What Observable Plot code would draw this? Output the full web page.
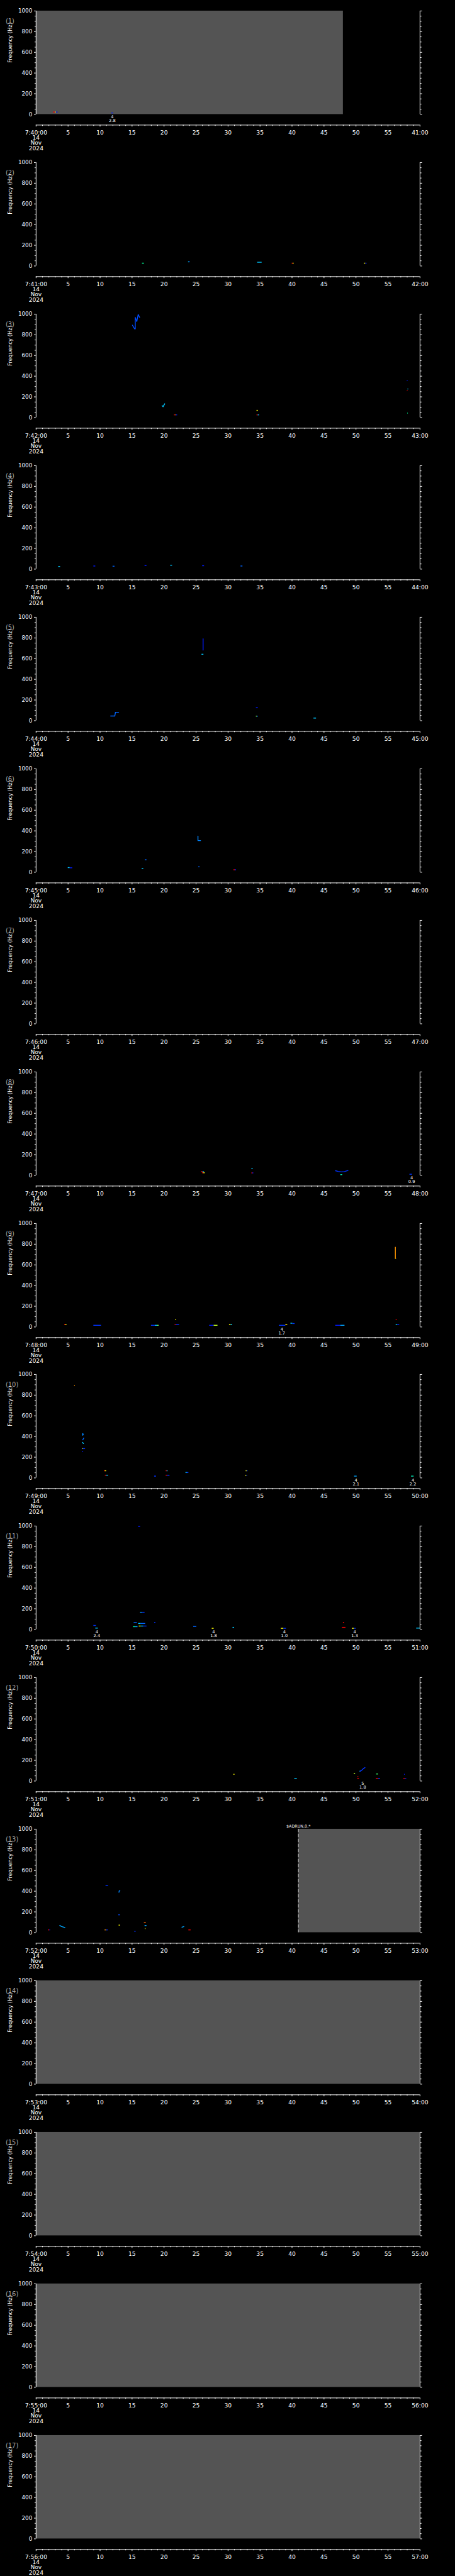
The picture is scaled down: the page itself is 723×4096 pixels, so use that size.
<!DOCTYPE html>
<html>
<head>
<meta charset="utf-8">
<script src="https://cdn.jsdelivr.net/npm/d3@7"></script>
<script src="https://cdn.jsdelivr.net/npm/@observablehq/plot@0.6"></script>
<style>
  html, body { margin: 0; padding: 0; background: #000; }
  #chart { width: 723px; background: #000; }
  #chart svg { display: block; }
</style>
</head>
<body>
<div id="chart"></div>
<script>
// ---------- data ----------
const panelLabels = ["(1)","(2)","(3)","(4)","(5)","(6)","(7)","(8)","(9)","(10)","(11)","(12)","(13)","(14)","(15)","(16)","(17)"];
const panelStart = ["7:40:00","7:41:00","7:42:00","7:43:00","7:44:00","7:45:00","7:46:00","7:47:00","7:48:00","7:49:00","7:50:00","7:51:00","7:52:00","7:53:00","7:54:00","7:55:00","7:56:00"];
const panelEnd = ["41:00","42:00","43:00","44:00","45:00","46:00","47:00","48:00","49:00","50:00","51:00","52:00","53:00","54:00","55:00","56:00","57:00"];
const dateLines = ["14","Nov","2024"];
const yLabel = "Frequency (Hz)";
const freqTicks = [0,200,400,600,800,1000];
const freqMinor = [50,100,150,250,300,350,450,500,550,650,700,750,850,900,950];
const timeTicks = [0,5,10,15,20,25,30,35,40,45,50,55,60];
const timeMinor = [1,2,3,4,6,7,8,9,11,12,13,14,16,17,18,19,21,22,23,24,26,27,28,29,31,32,33,34,36,37,38,39,41,42,43,44,46,47,48,49,51,52,53,54,56,57,58,59];

// grey "no data" blocks: panel, t1, t2 (s), f1, f2 (Hz)
const grayBlocks = [
  {p:1,t1:0,t2:48,f1:0,f2:1000},
  {p:13,t1:41,t2:60,f1:0,f2:1000},
  {p:14,t1:0,t2:60,f1:0,f2:1000},
  {p:15,t1:0,t2:60,f1:0,f2:1000},
  {p:16,t1:0,t2:60,f1:0,f2:1000},
  {p:17,t1:0,t2:60,f1:0,f2:1000}
];
const edgeLines = [{p:13,t:41}];
const gpsMarks = [{p:13,t:41,label:"$ADRUN,0,*"}];

// spectral dashes: [panel, t1, t2, freq, intensity]
const dashRows = [
  [1,2.7,3.0,23,1],[1,3.0,3.15,23,0.7],[1,3.15,3.4,23,0.05],[1,11.8,12.1,14,0.05],
  [2,16.6,16.9,27,0.5],[2,23.8,24.0,40,0.35],[2,24.0,24.1,40,0.05],[2,34.6,35.3,36,0.35],
  [2,40.0,40.15,27,1],[2,40.15,40.3,27,0.7],[2,51.3,51.5,27,0.7],[2,51.5,51.7,27,0.05],
  [3,21.6,21.8,26,1],[3,21.8,21.9,26,0.7],[3,21.9,22.1,26,0.05],[3,34.5,34.7,69,0.7],
  [3,34.5,34.7,26,1],[3,34.7,34.9,26,0.35],[3,58.0,58.1,358,0.05],[3,58.0,58.1,262,1],
  [3,58.1,58.2,276,0.35],[3,58.05,58.15,43,0.5],
  [4,3.5,3.8,25,0.35],[4,9.0,9.3,30,0.05],[4,12.0,12.3,28,0.2],[4,17.0,17.3,35,0.05],
  [4,21.0,21.3,38,0.35],[4,26.0,26.3,33,0.05],[4,32.0,32.3,30,0.2],
  [5,25.9,26.2,642,0.35],[5,34.4,34.7,125,0.05],[5,34.4,34.55,44,0.6],[5,34.55,34.7,44,0.2],
  [5,43.4,43.8,25,0.35],
  [6,5.0,5.3,45,0.35],[6,5.3,5.7,43,0.05],[6,16.55,16.8,38,0.35],[6,17.05,17.3,121,0.2],
  [6,25.4,25.6,53,0.2],[6,30.9,31.1,24,1],[6,31.1,31.3,24,0.05],
  [8,25.8,26.05,35,1],[8,26.05,26.3,35,0.35],[8,26.0,26.2,25,1],[8,26.2,26.4,25,0.7],
  [8,33.7,33.9,67,0.35],[8,33.7,33.85,24,1],[8,33.85,34.0,24,0.05],[8,47.6,47.9,7,0.45],
  [8,58.4,58.8,11,0.1],
  [9,56.15,56.3,664,0.7],[9,4.45,4.6,25,1],[9,4.6,4.8,25,0.7],[9,9.0,10.2,16,0.1],
  [9,18.0,18.6,16,0.1],[9,18.6,19.0,16,0.35],[9,19.0,19.2,16,0.6],[9,21.8,21.95,72,0.7],
  [9,21.7,21.9,25,1],[9,21.9,22.4,25,0.1],[9,27.1,27.8,16,0.05],[9,27.8,28.4,16,0.65],
  [9,30.2,30.45,25,0.7],[9,30.45,30.7,25,0.35],[9,38.0,39.0,16,0.1],[9,39.0,39.3,25,0.75],
  [9,39.8,40.1,36,0.35],[9,40.1,40.45,33,0.1],[9,46.8,47.6,16,0.05],[9,47.6,48.25,16,0.3],
  [9,56.25,56.4,72,1],[9,56.25,56.5,25,0.4],[9,56.5,56.8,25,0.05],
  [10,6.0,6.1,893,0.85],[10,7.25,7.5,420,0.25],[10,7.2,7.35,283,0.7],[10,7.35,7.7,283,0.1],
  [10,7.25,7.4,256,0.05],[10,10.65,10.8,69,1],[10,10.8,11.0,69,0.7],[10,10.8,11.0,26,1],
  [10,11.0,11.3,26,0.35],[10,18.5,18.8,17,0.1],[10,20.3,20.45,69,1],[10,20.45,20.6,69,0.35],
  [10,20.3,20.5,26,1],[10,20.5,20.9,26,0.1],[10,23.4,23.6,52,0.35],[10,23.6,23.85,52,0.1],
  [10,32.8,32.95,69,0.7],[10,32.95,33.1,69,0.1],[10,32.75,32.9,24,0.7],[10,32.9,33.05,26,0.1],
  [10,49.75,50.15,17,0.3],[10,58.65,59.05,17,0.45],
  [11,16.0,16.3,996,0.05],[11,16.3,16.6,166,0.3],[11,16.6,17.0,166,0.1],[11,9.0,9.4,39,0.1],
  [11,9.3,9.7,13,0.35],[11,15.3,15.8,67,0.2],[11,16.0,16.4,58,0.35],[11,16.4,17.1,58,0.2],
  [11,15.2,15.5,27,0.5],[11,15.5,15.9,27,0.3],[11,16.1,16.4,33,0.7],[11,16.4,16.8,33,0.35],
  [11,16.8,17.3,33,0.1],[11,18.5,18.7,67,0.1],[11,24.6,25.1,29,0.2],[11,27.5,27.8,11,0.7],
  [11,30.75,31.0,20,0.35],[11,38.3,38.7,11,0.7],[11,38.7,39.1,11,0.1],[11,48.0,48.2,67,1],
  [11,47.85,48.4,20,1],[11,49.4,49.7,11,0.7],[11,49.7,50.0,11,0.1],[11,59.45,60,13,0.35],
  [12,30.9,31.05,65,0.7],[12,40.4,40.8,23,0.35],[12,50.6,50.8,95,0.35],[12,49.7,49.9,72,0.65],
  [12,50.3,50.4,44,1],[12,50.25,50.5,23,1],[12,53.2,53.5,68,0.55],[12,53.15,53.5,23,1],
  [12,53.5,53.8,23,0.1],[12,57.55,57.65,65,0.05],[12,57.45,57.7,23,1],[12,57.7,57.9,23,0.05],
  [13,1.9,2.1,26,1],[13,2.1,2.25,26,0.05],[13,10.9,11.3,456,0.1],[13,12.9,13.15,172,0.15],
  [13,12.95,13.15,72,0.7],[13,10.75,11.0,26,0.85],[13,11.0,11.25,26,0.1],[13,15.4,15.6,12,0.1],
  [13,16.9,17.2,95,0.9],[13,17.0,17.3,68,0.3],[13,17.05,17.15,39,0.7],[13,23.85,24.2,26,1]
];

// spectral traces: [panel, id, intensity, [[t, f], ...]]
const traceRows = [
  [3,"3a",0.15,[[15.06,893],[15.4,857],[15.5,857],[15.5,968],[15.74,928],[15.96,997],[16.19,968]]],
  [3,"3b",0.35,[[19.7,115],[19.85,105],[20.1,133]]],
  [5,"5a",0.05,[[26.1,792],[26.1,682]]],
  [5,"5b",0.2,[[11.65,45],[12.3,45],[12.4,81],[12.9,81]]],
  [6,"6a",0.25,[[25.3,349],[25.3,306],[25.7,306]]],
  [8,"8a",0.1,[[46.8,45],[47.2,38],[47.7,34],[48.2,37],[48.75,47]]],
  [9,"9a",0.85,[[56.15,771],[56.15,664]]],
  [10,"10a",0.25,[[7.3,429],[7.3,411]]],
  [10,"10b",0.2,[[7.3,368],[7.45,385]]],
  [10,"10c",0.35,[[7.25,343],[7.4,333]]],
  [12,"12a",0.1,[[50.65,95],[50.9,105],[51.15,120],[51.4,130]]],
  [13,"13a",0.3,[[3.7,68],[4.0,58],[4.5,49]]],
  [13,"13b",0.25,[[12.95,390],[13.0,404],[13.1,404]]],
  [13,"13c",0.3,[[22.8,52],[23.1,58]]]
];

// event annotations below the frame
const annotations = [
  {p:1,t:11.9,a:"4",b:"2.8"},
  {p:8,t:58.7,a:"4",b:"0.9"},
  {p:9,t:38.4,a:"4",b:"1.7"},
  {p:10,t:50.0,a:"4",b:"2.1"},
  {p:10,t:58.9,a:"4",b:"2.2"},
  {p:11,t:9.5,a:"4",b:"2.4"},
  {p:11,t:27.75,a:"4",b:"1.8"},
  {p:11,t:38.8,a:"4",b:"1.0"},
  {p:11,t:49.8,a:"4",b:"1.3"},
  {p:12,t:51.05,a:"5",b:"1.8"}
];

const levelDomain = [0,0.2,0.35,0.5,0.7,0.85,1];
const levelColors = ["#0000ff","#0064ff","#00c8ff","#00ff96","#ffff00","#ff9600","#ff0000"];

// ---------- build ----------
const dashes = dashRows.map(([p,t1,t2,f,v]) => ({p,t1,t2,f,v}));
const traces = traceRows.flatMap(([p,id,v,pts]) => pts.map(([t,f]) => ({p,id,v,t,f})));

const S = 723 / 1024;
const W = 723;
const H = 4096 / 17;
const refPanelH = 5802 / 17;
const font = "'DejaVu Sans', sans-serif";

const chart = document.getElementById("chart");

panelLabels.forEach((lab, i) => {
  const p = i + 1;
  const svg = Plot.plot({
    width: W,
    height: H,
    marginTop: 24 * S,
    marginBottom: (refPanelH - 257) * S,
    marginLeft: 80.5 * S,
    marginRight: (1024 - 944.5) * S,
    style: {background: "#000", color: "#fff", fontFamily: font, fontSize: `${12 * S}px`, overflow: "visible"},
    x: {domain: [0, 60]},
    y: {domain: [0, 1000]},
    color: {type: "linear", domain: levelDomain, range: levelColors},
    marks: [
      Plot.rect(grayBlocks.filter(d => d.p === p), {x1: "t1", x2: "t2", y1: "f1", y2: "f2", fill: "#545454"}),
      Plot.ruleX(edgeLines.filter(d => d.p === p), {x: "t", stroke: "#dddddd", strokeWidth: 0.8, strokeDasharray: "5,3"}),
      Plot.ruleY(dashes.filter(d => d.p === p), {x1: "t1", x2: "t2", y: "f", stroke: "v", strokeWidth: 1.4}),
      Plot.line(traces.filter(d => d.p === p), {x: "t", y: "f", z: "id", stroke: "v", strokeWidth: 1.4}),
      // frame verticals
      Plot.ruleX([0, 60], {stroke: "#fff", strokeWidth: 1}),
      // y axes (left labelled, right unlabelled)
      Plot.axisY(freqTicks, {anchor: "left", tickSize: 4 * S, tickPadding: 4.5 * S, fontSize: 12.5 * S, label: null, stroke: "#fff", fill: "#fff", tickFormat: d => String(d)}),
      Plot.axisY(freqMinor, {anchor: "left", tickSize: 2.6 * S, tickFormat: () => "", label: null, stroke: "#fff"}),
      Plot.axisY(freqTicks, {anchor: "right", tickSize: 4 * S, tickFormat: () => "", label: null, stroke: "#fff"}),
      Plot.axisY(freqMinor, {anchor: "right", tickSize: 2.6 * S, tickFormat: () => "", label: null, stroke: "#fff"}),
      // detached time axis
      Plot.ruleY([0], {dy: 24 * S, stroke: "#fff", strokeWidth: 1}),
      Plot.axisX(timeTicks, {anchor: "bottom", dy: 24 * S, tickSize: 4 * S, tickPadding: 8 * S, fontSize: 13 * S, label: null, stroke: "#fff", fill: "#fff",
        tickFormat: d => d === 0 ? panelStart[i] : d === 60 ? panelEnd[i] : String(d)}),
      Plot.axisX(timeMinor, {anchor: "bottom", dy: 24 * S, tickSize: 2.6 * S, tickFormat: () => "", label: null, stroke: "#fff"}),
      Plot.text([dateLines.join("\n")], {frameAnchor: "bottom-left", text: d => d, textAnchor: "middle", lineAnchor: "top", dy: 48 * S, fontSize: 13 * S, lineHeight: 0.92, fill: "#fff"}),
      // labels
      Plot.text([lab], {frameAnchor: "top-left", text: d => d, textAnchor: "start", lineAnchor: "middle", dx: (12 - 80.5) * S, dy: (47 - 24) * S, fontSize: 14 * S, fill: "#a8a8a8"}),
      Plot.text([yLabel], {frameAnchor: "left", text: d => d, rotate: -90, dx: (22.5 - 80.5) * S, fontSize: 12 * S, fill: "#fff"}),
      Plot.text(annotations.filter(d => d.p === p), {x: "t", frameAnchor: "bottom", text: d => `${d.a}\n${d.b}`, lineAnchor: "top", dy: 2.3 * S, fontSize: 9.5 * S, lineHeight: 0.95, fill: "#fff"}),
      Plot.text(gpsMarks.filter(d => d.p === p), {x: "t", frameAnchor: "top", text: "label", lineAnchor: "bottom", dy: -3 * S, fontSize: 9 * S, fill: "#fff"})
    ]
  });
  chart.appendChild(svg);
});
</script>
</body>
</html>
